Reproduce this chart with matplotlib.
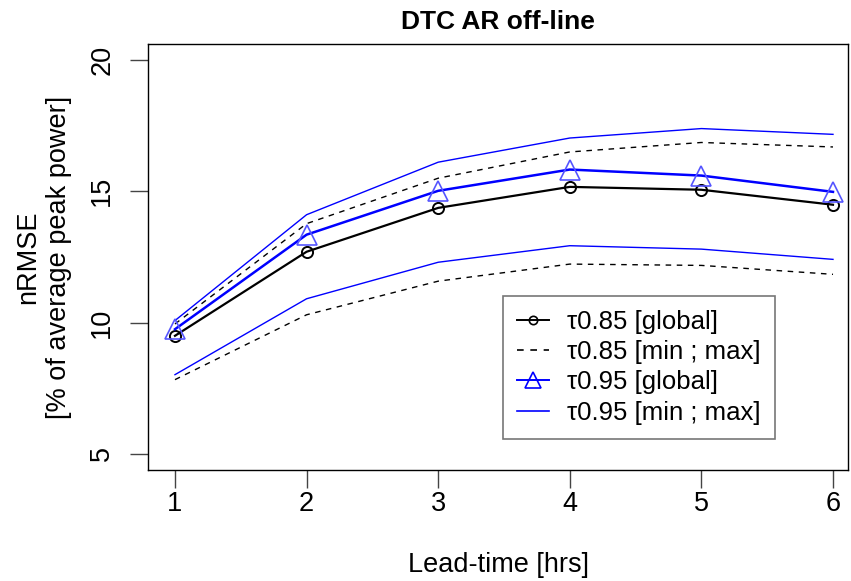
import matplotlib
matplotlib.use("Agg")
import matplotlib.pyplot as plt

plt.rcParams['font.family'] = ['Liberation Sans', 'DejaVu Sans']

lead_time = [1, 2, 3, 4, 5, 6]
tau85_global = [9.50, 12.70, 14.37, 15.17, 15.06, 14.49]
tau85_max = [9.95, 13.77, 15.50, 16.50, 16.86, 16.69]
tau85_min = [7.83, 10.30, 11.58, 12.23, 12.18, 11.84]
tau95_global = [9.75, 13.35, 15.02, 15.83, 15.60, 14.98]
tau95_max = [10.08, 14.11, 16.11, 17.03, 17.39, 17.17]
tau95_min = [8.02, 10.91, 12.30, 12.93, 12.80, 12.41]
y_ticks = [5, 10, 15, 20]

W, H = 851, 581
fig = plt.figure(figsize=(W / 100, H / 100), dpi=100)
ax = fig.add_axes([148 / W, 1 - 470 / H, 700 / W, 426 / H])

fs = 19.5
ax.plot(lead_time, tau85_max, color='black', lw=1, ls=(0, (4, 4)))
ax.plot(lead_time, tau85_min, color='black', lw=1, ls=(0, (4, 4)))
ax.plot(lead_time, tau95_max, color='#0000ff', lw=1)
ax.plot(lead_time, tau95_min, color='#0000ff', lw=1)
ax.plot(lead_time, tau85_global, color='black', lw=1.6, marker='o', ms=8,
        mfc='none', mec='black', mew=1.4)
ax.plot(lead_time, tau95_global, color='#0000ff', lw=1.8, marker='^', ms=15,
        mfc='none', mec='#5555ff', mew=1.2)

ax.set_xlim(0.795, 6.114)
ax.set_ylim(4.39, 20.61)
ax.set_xticks(lead_time)
ax.set_yticks(y_ticks)
ax.tick_params(axis='both', direction='out', length=13, width=1, labelsize=fs,
               color='#444444')
ax.tick_params(axis='x', pad=2)
ax.tick_params(axis='y', pad=10.5)
for lab in ax.get_yticklabels():
    lab.set_rotation(90)
    lab.set_va('center')
for s in ax.spines.values():
    s.set_linewidth(1)
    s.set_color('black')

ax.set_title('DTC AR off-line', fontsize=19, fontweight='bold', pad=11)
ax.set_xlabel('Lead-time [hrs]', fontsize=fs, labelpad=25)
ax.set_ylabel('nRMSE\n[% of average peak power]', fontsize=fs, labelpad=12.5,
              linespacing=1.25)

from matplotlib.lines import Line2D
handles = [
    Line2D([], [], color='black', lw=1.4, marker='o', ms=6, mfc='none', mew=1.2),
    Line2D([], [], color='black', lw=1.2, ls=(0, (4, 4))),
    Line2D([], [], color='#0000ff', lw=1.4, marker='^', ms=11, mfc='none', mew=1.2),
    Line2D([], [], color='#0000ff', lw=1.2),
]
labels = ['τ0.85 [global]', 'τ0.85 [min ; max]', 'τ0.95 [global]', 'τ0.95 [min ; max]']
leg = ax.legend(handles, labels, loc='upper left',
                bbox_to_anchor=((503 - 148) / 700, (470 - 296) / 426),
                prop={'size': 18.5}, frameon=True, fancybox=False, framealpha=1,
                edgecolor='#777777', handlelength=1.25, handletextpad=0.7,
                borderpad=0.55, labelspacing=0.24, borderaxespad=0)
leg.get_frame().set_linewidth(1.2)

fig.savefig('out.png', dpi=100)
